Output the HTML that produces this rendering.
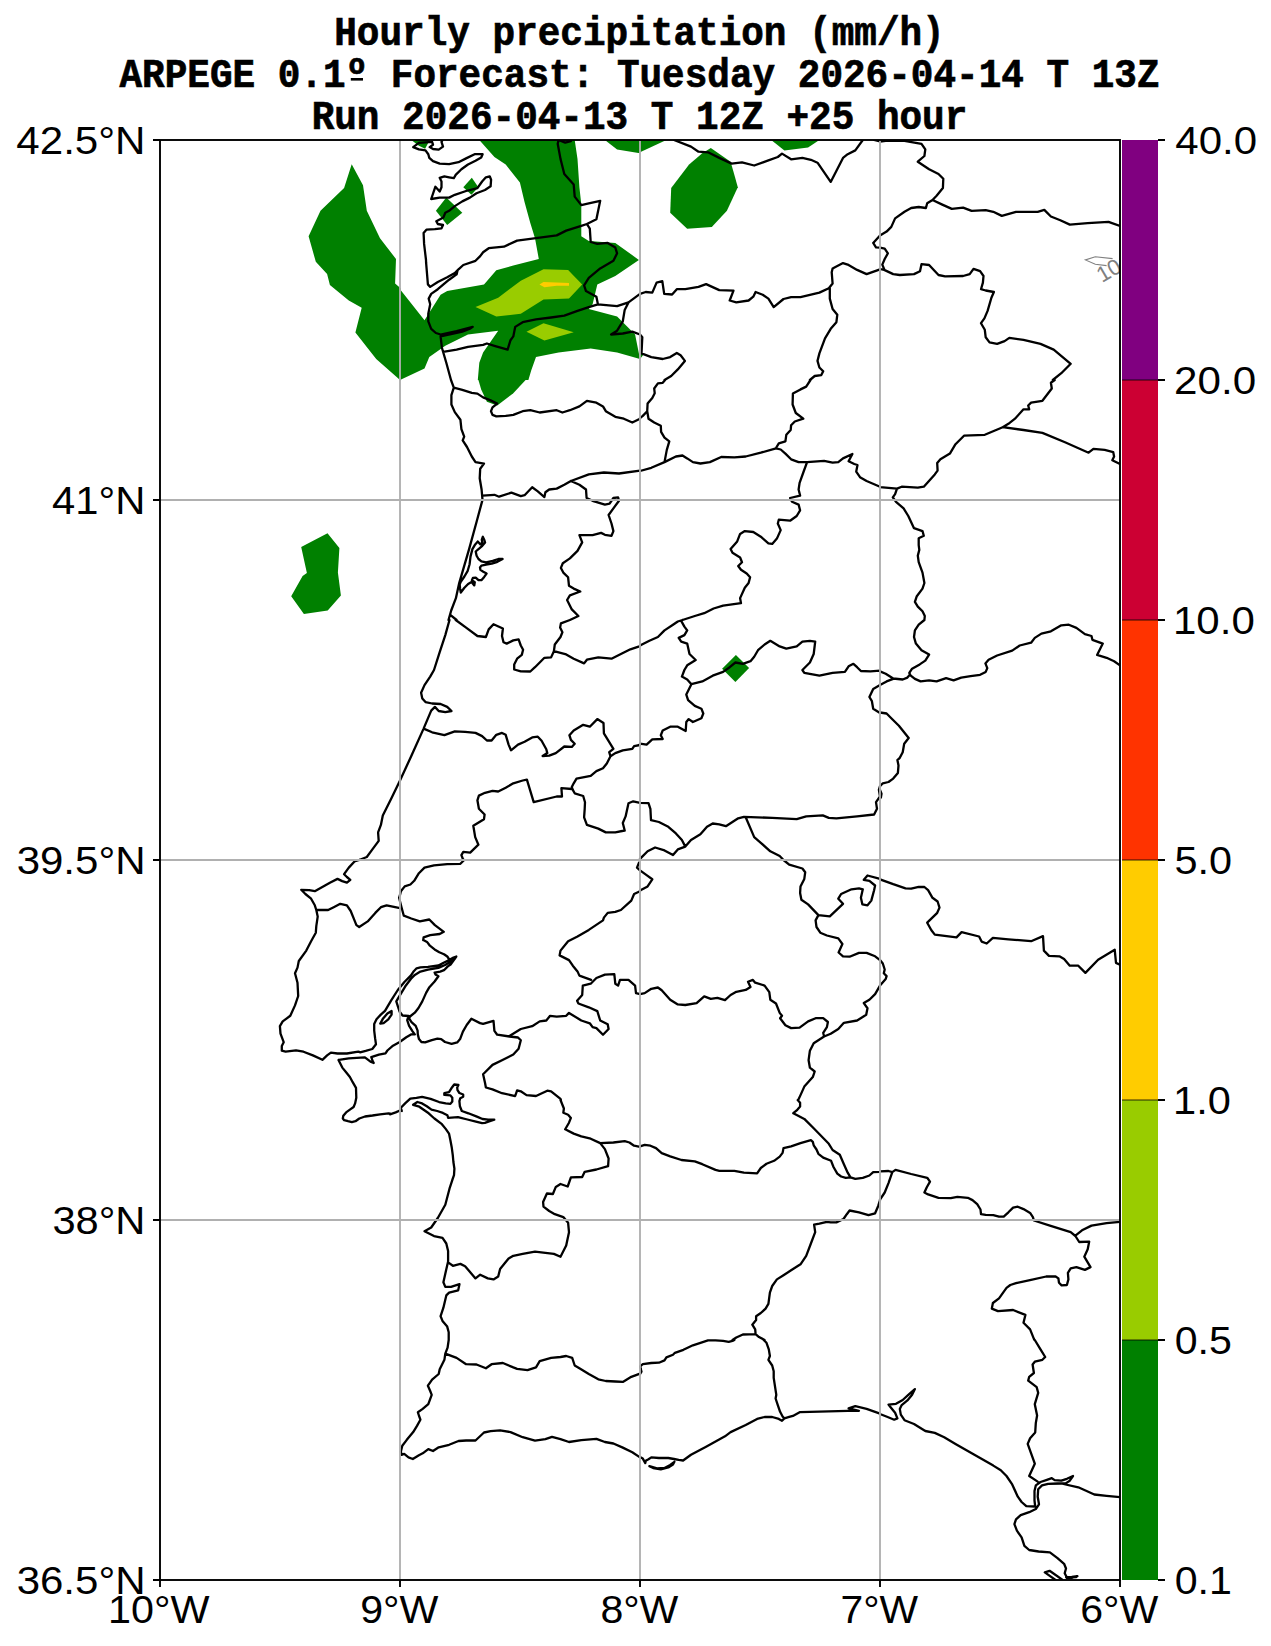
<!DOCTYPE html>
<html><head><meta charset="utf-8"><title>Hourly precipitation</title>
<style>
html,body{margin:0;padding:0;background:#fff;}
body{width:1271px;height:1646px;overflow:hidden;font-family:"Liberation Sans",sans-serif;}
svg{display:block;position:absolute;left:0;top:0;}
.t{font-family:"Liberation Mono",monospace;font-weight:bold;font-size:40.5px;fill:#000;}
.l{font-family:"Liberation Sans",sans-serif;font-size:39.5px;fill:#000;}
</style></head>
<body>
<svg width="1271" height="1646" viewBox="0 0 1271 1646">
<rect width="1271" height="1646" fill="#fff"/>
<defs><clipPath id="ax"><rect x="160" y="140" width="960" height="1440"/></clipPath></defs>
<!-- title -->
<g class="t" text-anchor="middle" stroke="#000" stroke-width="0.7">
<text transform="translate(639.5,45.3) scale(0.9305,1)">Hourly precipitation (mm/h)</text>
<text transform="translate(639.5,87.1) scale(0.9305,1)">ARPEGE 0.1º Forecast: Tuesday 2026-04-14 T 13Z</text>
<text transform="translate(639.5,128.9) scale(0.9305,1)">Run 2026-04-13 T 12Z +25 hour</text>
</g>
<rect x="350.8" y="78" width="12.2" height="2.6" fill="#000"/>
<!-- map -->
<g clip-path="url(#ax)">
<path d="M479.3,140 L574.7,140 L577.5,158.9 L579.4,187.2 L581.3,204.2 L581.3,236.3 L588.8,241 L615.3,242.9 L638.9,259.9 L615.3,276 L597.3,284.4 L592.6,304.3 L588.8,309 L617.1,316.5 L635.1,334.5 L640,359 L617.1,352.4 L590.7,348.6 L558.6,352.4 L536,357.1 L531.2,370.4 L528.4,380 L477.8,380 L479.3,362.8 L483.1,352.4 L498.2,330.7 L468,334.5 L445.3,345.8 L429.3,357.1 L424.5,368.5 L400,380 L400,289.2 L424.5,320.3 L440.6,294.8 L447.2,291.1 L484,284.4 L496.3,270.3 L513.3,265.6 L538.8,259 L535,238.2 L530.3,223.1 L524.6,202.3 L519.9,182.5 L505.7,164.5 L494.4,157Z" fill="#008000"/>
<path d="M604.9,140 L617.1,149.4 L640,153.2 L640,140Z" fill="#008000"/>
<path d="M471.8,177.8 L478.4,187.2 L471.4,194.8 L463.3,187.2Z" fill="#008000"/>
<path d="M446.3,197.6 L462.3,212.7 L447.2,225 L435.9,210.8Z" fill="#008000"/>
<path d="M411.3,140 L428.7,140 L428.3,142.8 L425.1,148.7 L418.9,145.7Z" fill="#008000"/>
<path d="M640,140 L666.4,140 L640,152.3Z" fill="#008000"/>
<path d="M710.8,147.9 L730.6,161.7 L734.4,174.9 L737.8,187.2 L726.9,210.8 L711.8,226.9 L687.2,228.7 L670.2,212.7 L671.2,188.1 L689.1,164.5 L702.3,153.2Z" fill="#008000"/>
<path d="M771.2,140 L784.4,150.4 L808.1,147.6 L819.4,140Z" fill="#008000"/>
<path d="M640,351.5 L643.8,354.3 L640,359Z" fill="#008000"/>
<path d="M351.7,164.2 L363,185.3 L366.8,210.8 L380,238.2 L396,259 L395.1,283.5 L400.9,288.4 L400.9,380.7 L376.2,359 L355.4,332.6 L361.7,307.7 L348.8,300.5 L329.9,285 L327.1,274.1 L315.8,261.8 L308.6,236.3 L320.5,210.8 L344.1,188.1Z" fill="#008000"/>
<path d="M478.4,380 L525.6,380 L513.3,393.2 L497.2,405.5 L486.9,401.7 L481.2,389.4Z" fill="#008000"/>
<path d="M327.5,533.3 L339.4,548.1 L337.9,572.6 L340.9,595.6 L327.7,610.4 L303.9,614.1 L291.2,596.2 L302.6,576 L306.9,573 L301.2,547.1Z" fill="#008000"/>
<path d="M735.9,654.9 L749.1,668.1 L735.4,681.9 L722.1,668.7Z" fill="#008000"/>
<path d="M475.5,307.1 L498.2,297.7 L520.8,280.7 L543.5,269.3 L568.1,269.9 L582.2,284.4 L569,298.6 L543.5,299.6 L520.8,313.7 L496.3,316.5Z" fill="#99cc00"/>
<path d="M526.5,331.7 L543.5,323.2 L573.7,332.2 L544.4,340.5Z" fill="#99cc00"/>
<path d="M539.4,284.4 L543.5,282 L569,283.1 L569,285.8 L556.7,285.8 L544.4,287.3Z" fill="#ffcc00"/>
<path fill="none" stroke="#000" stroke-width="2.3" stroke-linejoin="round" stroke-linecap="round" d="M442.5,140 L441.5,141.9 L443,146.6 L438.7,149.6 L433,149 L429.7,147.1 L433,144.7 L432.1,141.9 L418.9,142.8 L413.2,147.1 L418.9,149.4 L425.5,150.4 L428.3,154.2 L429.3,157.9 L433,161.2 L439.7,163.6 L449.1,164.1 L458.5,162.2 L466.1,158.4 L474.6,154.2 L482.6,154.2 L481.2,157.5 L475.5,160.8 L468,164.5 L461.4,169.3 L455.7,174.9 L453.8,178.2 L449.1,177.3 L444.4,176.3 L439.7,177.8 L441.5,181.5 L441.5,187.2 L439.7,191.5 L435.4,186.7 L431.2,199 L439.7,197.6 L449.1,197.6 L454.8,194.8 L466.1,191 L477.4,188.1 L482.1,181.5 L485.9,177.3 L489.7,176.3 L491.1,179.7 L490.6,186.3 L485,190 L476.5,193.3 L469.9,197.6 L462.3,201.4 L454.8,206.1 L449.1,210.8 L445.3,212.7 L443.4,217.4 L436.3,221.2 L437.8,224 L443,225 L441.5,228.3 L434.9,229.2 L426.4,229.7 L423.6,233 L424.1,243.9 L426,260 M426,260 L426.1,262.7 L427.9,284.4 L430.2,286.9 L437.8,282 L447.2,277.3 L454.8,273.1 L458.5,269.3 L463.3,265 L475.5,260.8 L480.2,256.1 L483.1,252.3 L488.7,248.2 L503.9,246.7 L517.1,240.6 L536,238.2 L556.7,235.4 L566.2,230.6 L581.3,225.9 L586.9,224 M586.9,224 L596.4,219.3 L598.3,209.9 L600.2,200.8 L588.8,203.3 L581.3,205.1 L574.7,196.6 L573.7,184.4 L564.3,174 L560.5,158.9 L557.7,143.8 L558.6,140 L565.2,142.6 L570.9,141.1 M586.9,224 L589.8,228.7 L590.7,242 L597.3,243.9 L607.7,242.9 L615.3,247.6 L617.1,253.3 L613.4,260.8 L600.2,268.4 L588.8,277.8 L584.1,285.4 L586,291.1 L596.4,296.7 L597.9,304.3 M457.6,270.3 L456.6,274.4 L449.1,279.7 L437.8,289.2 L431.2,293.9 L428.7,298.6 L430.2,304.3 L428.3,313.7 L428.3,321.3 L431.2,328.8 L435.9,333 L440.6,334.5 L456.6,331.1 L472.7,326.9 L469.9,328.8 L462.3,331.7 L451,334.1 L440.6,336.4 L441.9,347.7 L446.3,362.8 L451,380 M443.1,351.9 L456.6,349.6 L468,346.8 L483.1,344.9 L486.9,343.5 L494.4,345.8 L507.6,349.6 L510.5,340.2 L513.3,336.4 L515.2,326.9 L522.7,322.2 L536,319.4 L551.1,317.5 L564.3,315.6 L577.5,310.9 L588.8,307.1 L597.9,304.3 M597.9,304.3 L617.1,306.2 L628.5,302.4 L640,293.9 M628.5,302.4 L624.7,309.9 L622.8,321.3 L617.1,330.7 L611.1,334.5 L622.8,333.5 L632.3,331.7 L640,334.5 M674,140 L691,146.6 L698.5,151.7 L708,152.3 L719.3,157.9 L731.6,163.6 L742,162.3 L754.2,165.5 L768.4,160.4 L777.8,157 L782,153.6 L791.1,159.3 L802.4,157.9 L810.9,159.8 L817.5,162.7 L830.7,181.9 L843,157.9 L847.7,154.2 L855.3,150.4 L862.8,140 M874.1,140 L880,141.5 M640,293.9 L645.7,292 L652.3,292.6 L656.6,282.6 L662.3,281.2 L664.2,293.9 L672.1,294.5 L676.8,289.2 L685.3,289.2 L698.5,286.9 L706.1,284.1 L719.3,290.1 L733.5,290.7 L729.7,300.5 L736.3,302.4 L748.6,300.5 L753.3,296.7 L755.6,292 L762.7,294.8 L768.4,298.6 L773.7,307.1 L783.5,299 L791.1,297.1 L800.5,297.1 L819.4,292.6 L828.8,288.2 L832.6,283.5 L831.7,272.2 L832.6,268.4 L843,263.1 L847.7,264.6 L857.1,269.9 L866.6,274.1 L880,269.3 M829.8,288.2 L829.8,298.6 L832.6,309 L837.3,314.7 L836.4,322.2 L830.7,328.8 L825,338.3 L819.4,353.4 L817.5,360.9 L819.4,367.5 L823.2,371.3 L821.3,375.1 L814.7,376 L809.9,380 M880,235.4 L873.2,242.9 L876,247.3 L880,247.6 M640,334.5 L642.3,337.3 L641.5,353.4 L651.3,357.1 L662.7,359 L670.2,357.1 L676.8,353 L680.6,355.3 L684.9,360.9 L677.8,369.4 L671.2,376 L664.5,380 M880,141.5 L885.7,140.9 L904.5,140.9 L921.5,143.8 L925.3,149.4 L924.4,156 L917.8,161.7 L929.1,169.3 L938.5,174 L943.3,178.7 L942.9,188.1 L936.6,195.7 L932.5,200 L927.2,203.3 L925.9,208 L918.7,207 L911.2,208 L904.5,211.8 L895.1,218.4 L891.3,226.9 L886.6,231.6 L880,235.4 M932.5,200 L942.3,204.6 L951.8,208.9 L963.1,207.6 L971.6,210.8 L985.7,210.2 L993.3,211.8 L1001.8,215.9 L1016,211.8 L1037.7,211.8 L1044.3,209.9 L1050.9,216.5 L1060.3,220.2 L1069.8,224.6 L1087.7,223.1 L1108.5,221.8 L1120,225.9 M880,247.6 L884.7,248.6 L887.9,253.3 L884.7,259 L882.3,264.6 L884.2,269.3 M880,269 L884.2,269.9 L893.2,274.1 L899.8,275 L914,274.1 L920,271.2 L921.5,264.2 L929.1,265 L938.5,275 L945.1,276.3 L963.1,276 L969.7,274.1 L973.5,268.8 L980.1,271.2 L983.5,276 L982.9,282.6 L981,289.2 L985.7,290.5 L993.9,292 L991.4,297.7 L987.6,310.9 L984.4,318.4 L981,323.2 L984.8,329.8 L985.7,337.3 L989.5,342.4 L997.1,343.9 L1004.6,341.1 L1009.3,337.9 L1023.5,339.8 L1040.5,343.9 L1053.7,349.6 L1070.7,363.8 L1061.3,373.2 L1052.8,380 M451,380 L453.8,387.6 L451.4,395.1 L451.4,404.5 L454.8,412.1 L460.4,419.7 L461.4,429.1 L464.2,436.6 L462.7,440.4 L467,447 L471.8,456.5 L475.5,462.1 L484,463.6 L480.2,468.7 L479.7,478.2 L481.6,489.5 L482.5,499.9 M482.5,499.9 L476.6,521.7 L469.1,549.1 L459.2,583.1 L455.9,598.2 L451.2,610.5 L448.5,620 M453.8,387.6 L462.3,389.8 L471.8,392.8 L477.4,393.6 L483.1,397.4 L490.6,400.4 L497.2,403.6 L492.5,407.4 L491,411.2 L492.5,414.9 L496.3,416.3 L505.7,415.9 L513.3,414.9 L522.7,411.2 L530.3,410.2 L539.7,412.5 L556.7,410.2 L562.4,412.5 L569.9,410.2 L579.4,406.4 L586.9,400.8 L596.4,402.7 L603,406.4 L605.8,411.2 L615.3,416.8 L623.8,418.7 L632.3,422.5 L640,418.7 M482.5,495.6 L494.4,494.8 L499.1,496.7 L511.4,492.7 L520.8,496.1 L524.6,495.2 L532.2,487.3 L537.8,491.4 L544.4,497.1 L545.4,492.3 L549.2,489.5 L556.7,488.6 L564.3,484.8 L570.9,481 L588.8,474.4 L603.9,472.5 L619,473.5 L640,470.6 M570.9,481 L579.4,484.8 L586,489.5 L586.6,498 L592.6,500.8 L604.9,504.6 L609.6,503.7 L613.4,498 L618.1,497.4 L619,500.8 L613.4,508.4 L608.6,515 L611.5,523.5 L613.4,531.1 L611.5,535.8 L604.9,534.8 L601.1,532.9 L592.6,535.2 L579.4,535.2 L582.2,542.4 L577.5,550.9 L569.9,558.4 L562.8,563.2 L560.9,567.9 L563.3,572.6 L568.1,577.3 L569,585.8 L573.7,588.6 L580.3,591.5 L569.9,595.3 L567.1,600 L571.8,609.4 L578.4,616 L569.9,620 M477.8,541.5 L475.2,544.4 L472.4,549.1 L470.5,556.6 L469.6,564.2 L467.7,570.8 L464.4,576.5 L460.6,582.1 L459.7,584.5 L460.1,588.7 L460.8,592.5 L464.4,587.8 L468.1,584 L471.5,582.1 L474.3,585.4 L474.8,582.1 L471.9,580.2 L472.9,577.9 L475.7,577.6 L478.5,580.2 L481.4,580.2 L484.2,576.9 L486.6,573.6 L483.3,571.8 L480.4,569.9 L480,567.5 L481.4,565.6 L486.1,564.7 L491.8,563.7 L497.4,561.8 L502.6,559 L498.4,559 L492.7,560.9 L486.1,562.3 L481.4,561.4 L478.5,559 L476.6,555.7 L475.7,551.5 L478.5,549.1 L482.3,545.8 L485.1,542.5 L484.2,539.7 L482.8,536.8 L481.8,539.7 L482.3,542.5 L480.4,544.4 L477.8,541.5 M450.6,615.1 L456.6,620 M665.1,380 L662.7,382.8 L657.9,383.4 L654.2,388.5 L654.7,393.2 L652.3,397.9 L647.6,403.6 L647.2,411.2 L642.8,415.9 L640,418.1 M647.2,411.2 L648.5,418.7 L654.2,422.5 L660.8,425.7 L661.1,431.9 L664.5,437.6 L669.3,441.4 L666.8,449.9 L664.5,462.1 M640,471 L651.3,467.8 L664.5,462.1 L675.9,456.5 L682.5,455.5 L687.2,458.4 L692.9,462.1 L700.4,463.5 L709.9,462.1 L721.2,457 L734.4,457.4 L745.7,456.5 L760.8,452.7 L776,448.4 L780.7,449.5 L785.4,453.6 L791.1,459.3 L798.6,462.1 L807.1,462.1 L824.1,460.8 L832.6,462.7 L838.3,462.1 L843,458.4 L852.4,454 L848.6,461.2 L854.3,464 L857.5,465 L856.2,471.6 L860,477.2 L866.6,481 L880,486.7 M810.5,380 L806.2,386.6 L800.5,389.4 L792.9,393.6 L792.6,404.5 L795.8,413 L803.3,418.7 L794.8,421.5 L791.1,425.3 L790.7,430 L786.3,434.8 L785.4,441.4 L778.8,443.3 L776,448 M807.1,462.1 L803.3,472.5 L799.6,482.9 L798.6,489.5 L800.1,495.6 L790.1,498 L792,501.8 L798.6,504.6 L800.1,510.3 L796.7,516 L790.1,520.7 L778.8,519.7 L777.8,523.5 L780.7,530.1 L776.9,538.6 L772.2,543.9 L768.4,543.3 L760.8,536.7 L753.3,532 L744.8,531.1 L740.1,533.9 L737.2,541.4 L730.6,549 L732.5,552.8 L740.1,557.5 L742,562.2 L738.2,566 L741,569.8 L746.7,573.5 L750.1,577.3 L748.6,583 L744.8,587.7 L740.1,598.1 L741,603.2 L723.1,605.6 L713.6,608.5 L704.2,613.2 L694.8,616 L682.5,620 M1054.7,380 L1050.9,382.8 L1051.8,388.5 L1042.4,400.8 L1031.1,402.7 L1028.2,405.5 L1029.2,409.3 L1023.5,409.3 L1015,418.7 L1008.4,423.8 L1002.7,427.2 L984.8,434.8 L964,435.7 L955.5,444.2 L949.9,453.6 L940.4,459.3 L937.2,463.1 L937.6,470.6 L934.8,474.4 L923.8,486.7 L917.8,487.6 L901.7,486.7 L897,488.6 L895.1,494.2 L892.8,497.4 L896,501.8 L903.6,508.4 L908.3,516 L914,528.2 L922.5,531.1 L923.8,535.8 L918.7,538.2 L918.7,545.2 L919.3,549.9 L917.8,555.6 L918.7,562.2 L922.5,572.6 L924.4,583 L922.5,588.6 L916.8,596.2 L914.9,601.9 L917.8,606.6 L922.5,611.3 L924.8,616 L924.4,620 M880,487.1 L897,488.6 M1002.7,427.2 L1023.5,430 L1042.4,432.9 L1065,442.3 L1088.6,452.7 L1093.4,448.9 L1104.7,449.9 L1113.2,452.1 L1114.1,456.5 L1112.3,460.2 L1120,464 M449.5,620 L445.3,635.1 L439.7,652.1 L434,670 L430.2,676.6 L424.5,685.1 L421.1,692.7 L422.3,698.4 L425.5,702.1 L432.1,703.5 L440.6,704 L447.2,706.9 L451.5,711 L445.3,712.1 L438.7,711 L434.9,706.9 L431.2,710.6 L423.6,728.6 L411.3,756 L400,780.5 M455.7,620 L466.1,627.6 L477.4,636 L485.9,637 L488.7,629.4 L493.5,624.2 L502.9,628.5 L502,636 L503.5,642.3 L506.7,643.6 L513.3,640.4 L518.6,639.3 L520.8,645.5 L523.1,649.8 L521.8,654.9 L517.1,658.7 L514.2,664.4 L514.2,669.5 L520.8,671.4 L530.3,671.5 L535,667.2 L544.4,657.8 L551.1,657.4 L553.9,651.2 L554.8,644.5 L560.5,637 L562.4,632.3 L560.1,627.6 L560.9,623.4 L569.9,620 M553.9,651.2 L566.2,654.4 L573.7,658.7 L584.1,663.4 L586.9,659.7 L598.3,657.4 L611.5,658.7 L620.9,654 L630.4,649.3 L640,646.1 M423.6,728.6 L432.1,732.3 L444.4,735.2 L454.8,731.4 L465.1,731.8 L475.5,732.9 L482.1,736.1 L486.9,740.5 L491.6,740.5 L496.3,734.8 L502,732.9 L505.7,734.8 L508.6,744.6 L511,750.3 L518,744.6 L524.6,741.8 L532.2,737.4 L537.8,736.7 L541.6,740.8 L546.3,749.3 L547.3,753.1 L542.6,756 L549.2,755.6 L555.8,753.1 L564.3,746.5 L571.8,746.9 L574.7,743.7 L570.9,739.9 L569.4,735.2 L573.7,730.5 L583.2,724.8 L589.8,726.7 L597.3,719.1 L603.5,722.9 L603.9,733.3 L613.4,748.8 L609.2,752.2 L610.5,756.3 M640,745 L634.1,746.1 L632.3,748.8 L622.8,750.3 L615.3,753.1 L610.5,756.3 L606.8,763.5 L603,768.2 L596.4,771.1 L590.7,775.8 L576.5,778.6 L573.7,783.3 L571.8,787.1 L572.8,789.9 L574.7,793.3 L583.2,796 L585,802.2 L584.7,808.8 L584.1,817.3 L586.9,824.9 L598.3,828.6 L605.8,832.4 L615.3,832.4 L624.7,830.5 L622.8,823 L625.6,816.4 L628.5,803.2 L633.2,801.3 L640,802.8 M571.8,789 L561.4,788.1 L562,796.5 L556.7,796.5 L533.7,802.2 L526.9,779.6 L522.7,780.5 L513.3,783.3 L505.7,787.7 L498.2,791.5 L492.5,790.9 L485,792.8 L478.9,795.6 L477.4,800.3 L478.9,808.8 L484.6,814.5 L484,819.2 L473.3,825.8 L475.2,837.1 L478.4,844.7 L470.2,852.6 L463.3,851.9 L461.4,855.1 L463.3,860 M640,645.5 L649.4,640.8 L657.9,637 L664.5,630.4 L673,624.7 L677.8,621.5 L682.5,620 M681.2,620.9 L684.4,626.6 L687.2,630.4 L684.4,635.1 L678.7,637.9 L681.2,641.7 L687.2,643.6 L689.5,654 L695.7,660 L687.2,665.3 L684.4,670 L681.9,676.6 L687.2,679.5 L691.4,684.2 M691.4,684.2 L702.3,681.4 L712.7,675.7 L723.1,671.9 L729.7,667.2 L735.4,662.5 L742.9,663.8 L750.5,661.2 L754.2,656.8 L758,650.2 L764.6,644.5 L770.3,640.8 L779.7,646.4 L786.3,648.7 L796.7,646.4 L802.4,641.7 L809.9,640.8 L815.2,641.7 L813.7,654 L809.9,662.5 L802.4,670 L804.3,672.9 L819.4,675.7 L832.6,672.9 L844.9,671.9 L848.6,666.3 L853.4,663.8 L857.1,667.2 L860.9,671 L870.4,671.4 L880,670.6 M691.4,684.2 L686.3,694.6 L688.1,700.2 L694.8,705.9 L701.4,708.7 L703.3,713.5 L701.4,718.2 L692.9,722 L688.7,719.1 L686.3,722 L685.7,731 L677.8,726.7 L670.2,726.7 L662.7,730.5 L660.8,735.2 L662.7,739 L652.3,739.3 L646.6,744.6 L640,743.7 M880,685.1 L873.2,688.9 L869.4,697 L871.9,701.2 L873.2,708.7 L880,712.9 M880,786.2 L878.9,789.9 L880,796.5 L876,802.2 L877,808.8 L874.1,814.5 L857.1,816.4 L836.4,818.3 L828.8,817.9 L822.8,815.4 L806.2,816.4 L796.7,819.2 L772.2,817.9 L743.9,816.8 L738.2,818.3 L725.9,826.2 L719.3,824.3 L712.7,823.5 L707,826.8 L700.4,834.3 L691,840 L685.3,846.6 L677.8,849.4 L673,855.1 L664.5,850.4 L655.1,847.5 L647.6,851.3 L640,858.9 M640,802.8 L648.5,803.2 L650.4,808.8 L651,820.2 L658.9,822 L668.3,826.8 L675.9,833.4 L681.9,840 L685.3,846.6 M745.7,817.3 L754.2,837.1 L760.8,842.8 L770.3,851.3 L779.7,856 L783.5,860 M924.4,620 L918.7,624.7 L914.9,630.4 L914,637 L915.9,643.6 L921.5,650.2 L929.1,654.6 L925.3,660.6 L919.7,664.4 L912.1,668.7 L909.3,672.9 L910.2,674.8 M880,671.4 L885.7,673.8 L893.2,678.5 L902.7,679.5 L907.4,677.6 L909.8,674.8 L914.9,678.9 L920.6,681.4 L929.1,680.4 L936.6,681.4 L946.1,678.2 L953.6,680.4 L961.2,677.6 L970.6,676.1 L980.1,674.8 L985.7,671.9 L987.3,668.1 L985.4,663.4 L988.6,659.7 L997.1,655.5 L1012.2,650.6 L1019.7,645.5 L1031.1,642.7 L1034.8,637.9 L1041.4,633.6 L1050.9,631.3 L1061.3,625.3 L1068.8,624.7 L1076.4,627.9 L1084.9,634.2 L1091.5,636 L1092.4,639.8 L1102.8,643.6 L1097.1,654.9 L1106.6,657.8 L1114.1,661.2 L1120,665.3 M880,685.1 L886.6,681.4 L893.2,678.9 M880,712.5 L886.6,713.5 L891.3,718.2 L898.9,725.7 L908.7,738 L904.2,743.7 L902.7,752.2 L899.8,757.8 L897.4,760.1 L898.5,765.4 L897.9,772.9 L893.2,778.6 L888.5,782 L882.8,783.3 L880,786.2 M880,789.9 L881.5,793.7 L880.9,797.5 M359.2,860 L354.5,861.5 L348.8,867.6 L344.1,874.2 L346.9,877 L350.3,879.8 L346.9,882.7 L342.2,881.1 L337.5,878.9 L329.9,882.7 L314.8,891.2 L309.2,890.2 L301.2,889.8 L305.4,894 L311.1,898.7 L314.8,905.3 L316.3,910 L317.7,916.6 L316.3,926.1 L315.8,932.7 L311.1,941.2 L306.3,950.6 L298.8,961 L297.5,967.6 L295,973.3 L297.5,982.7 L298.2,996 L295,1005.4 L290.3,1015.8 L282.7,1021.4 L279.9,1026.2 L280.5,1033.7 L283.7,1042.2 L281.8,1046 L281.8,1050.7 L285.6,1051.7 L296,1050.3 L303.5,1051.7 L312.9,1055.4 L322.4,1059.8 L327.1,1055.4 L330.9,1052.6 L337.5,1053.5 L346.9,1053.5 L358.3,1051.7 L360,1052.2 M316.3,910 L328.1,910 L333.7,907.2 L340.3,903.8 L346.9,905.3 L350.7,911 L354.5,920.4 L356.4,925.1 L359.2,927 L367.7,921.4 L375.3,912.9 L380.9,907.2 L386.6,905.3 L400,908.1 M372.2,1060 L373.7,1063 L370.5,1061.7 L364.9,1057.3 L348.8,1058.3 L339,1059.8 L339.4,1060.5 M400,780.5 L391.3,798.4 L382.8,815.4 L380.9,824.9 L378.1,832.4 L378.7,840.9 L372.4,849.4 L366.8,857 L359.2,860 M464.2,860 L460.4,863.8 L447.2,864.2 L434,865.3 L424.5,867.6 L418.9,873.2 L414.2,880.8 L410.4,884.5 L404.7,886.4 L400.9,891.2 L400,894.9 L399.1,897.8 L401.5,907.2 L403.8,915.7 L411.3,918.5 L419.8,921.4 L429.3,919.5 L434.9,925.1 L443.8,931.8 L439.7,934 L430.2,935.2 L423.6,937.4 L423.2,940.1 M480.1,1023.1 L483.1,1023.9 L493.5,1020.9 L494.4,1030.9 L497.2,1034.7 L509.5,1036.5 L518,1037.5 L520.8,1040.3 L518.6,1048.8 L513.3,1054.5 L502,1060.2 L492.5,1064.9 L483.1,1074.3 L485,1082.8 L485.9,1087.5 L492.5,1089.4 L502,1093.2 L515.2,1096 L517.1,1090.4 L520.8,1091.3 L526.5,1095.1 L536,1096 L547.3,1090.7 L551.1,1091.3 L560.5,1098.9 L560.9,1100 M509.5,1036 L520.8,1029 L532.2,1026.2 L539.7,1021.4 L546.3,1020.5 L550.1,1015.8 L556.7,1016.7 L566.2,1015.8 L569,1012.9 L581.3,1020.5 L589.8,1023.3 L592.6,1027.1 L596.4,1028.1 L603,1034.7 L608.6,1029 L607.7,1024.3 L600.2,1020.5 L597.3,1011.1 L588.8,1007.3 L578.4,1003.5 L577.1,1000.7 L582.2,995 L582.8,985.6 L590.7,983.7 L596.4,978 L604.9,974.6 L614.3,974.2 L615.3,983.7 L618.1,985.6 L620,979.9 L628.5,979.9 L635.1,985.6 L636,993.1 L640,994.1 M640,891.2 L634.1,894 L631.3,900.6 L620.9,910 L615.3,911.9 L607.7,912.9 L603.9,917.6 L603,920.4 L588.8,929.9 L577.5,936.5 L568.1,941.2 L560.5,950.6 L559.6,955.4 L569,960.1 L572.8,965.7 L577.5,971.4 L579.4,975.6 L591.1,979.9 M638.9,862.8 L637,867.6 L640,870.4 M360,1052.3 L365.7,1050.9 L372.3,1049 L376,1044.3 L375.1,1038.2 L374.2,1030.6 L374.2,1024 L376.5,1019.3 L380.8,1014.6 L385,1010.8 L391.2,1000.4 L397.8,990 L404.4,982 L411,975.4 L413.8,971.2 L416.6,968.3 L420.4,967.4 L428,966.9 L438.4,965.5 L443.1,963.1 L448.7,960.3 L453.5,957.5 L456.3,956.5 L454.4,959.4 L450.6,964.5 L447.8,966.4 L444,970.2 L440.2,971.6 L434.6,972.6 L435.5,974.5 L438.4,976.3 L434.6,981.5 L429.4,987.2 L426.1,992.9 L422.3,1001.4 L418.5,1008 L414.8,1012.7 L410,1016.5 L409.1,1018.4 L411.5,1022.1 L415.7,1025.9 L417.6,1030.6 L417.8,1034.4 L419,1039.1 L421.4,1042 L425.1,1042.4 L431.8,1040.1 L437.4,1038.7 L441.2,1039.1 L445,1042 L451.6,1043.9 L457.2,1042.4 L460.1,1039.1 L462.9,1031.6 L466.7,1025 L471.4,1018.8 L480,1023.1 M455.4,957.5 L450.6,961.7 L445,965 L438.4,967.9 L428,969.7 L420.4,971.6 L414.8,974.9 L411,978.7 L405.3,986.3 L399.7,995.7 L396.3,1001.4 L397.8,1006.1 L399.7,1011.8 L402.5,1015.5 L408.6,1016 L407.2,1020.2 L409.1,1025.9 L412.4,1031.1 L414.8,1034.4 L411,1034.4 L406.3,1037.2 L399.7,1042 L393,1045.7 L387.4,1050.5 L385.5,1053.3 L378.9,1054.7 L371.3,1057.1 L372.3,1060 M380.3,1023.6 L383.1,1018.4 L387.4,1013.6 L391.6,1011 L391.6,1014.6 L388.3,1019.3 L383.6,1023.1 L380.3,1023.6 M423.3,940 L427,941.9 L429.9,945.7 L434.6,949.4 L439.3,952.3 L444,954.2 L447.3,956.5 L449.2,959.4 M640,870.4 L646.6,875.1 L652.3,879.3 L647.6,886.4 L640,890.6 M640,994.1 L644.7,993.1 L651.3,988.8 L657.9,987.5 L661.7,990.3 L670.2,999.7 L677.8,1004.4 L685.3,1005 L696.6,1003.1 L704.2,996.3 L710.8,998.8 L717.4,997.8 L725,1000.1 L730.6,995 L736.3,991.8 L745.7,989.9 L750.5,986.9 L748,981.8 L752.9,979.9 L755.2,982.7 L764.6,985.6 L769.3,992.2 L770.3,999.7 L776,1003.5 L779.7,1012.9 L782,1015.8 L780.1,1018.2 L785.4,1025.2 L791.1,1028.1 L799.6,1027.7 L808.1,1021.4 L815.6,1018.2 L823.2,1018.2 L827.9,1022 L826.9,1027.1 L823.2,1032.8 L824.1,1036.5 M783.5,860 L789.2,864.7 L802.4,868.5 L805.2,872.3 L804.3,878.9 L800.5,886.4 L800.1,893 L801.4,899.7 L808.1,904.4 L818.4,915.1 L829.8,916.3 L843,903.8 L838.3,898.7 L841.1,894 L851.5,889.3 L859,888.3 L862.8,889.3 L860.9,897.8 L862.4,904.4 L867.5,905.3 L871.3,900.6 L874.1,890.2 L875.1,885.5 L869.4,880.8 L863.8,879.8 L867.5,875.5 L880,878.9 M818.4,915.1 L815.6,920.4 L816.5,927 L820.3,932.7 L826.9,935.5 L838.3,938.4 L842.4,944 L838.6,952.5 L843,956.3 L849.6,956.7 L859,952.9 L866.6,952.9 L875.1,956.3 L880,960.1 M880,985.6 L875.1,994.1 L869.4,999.7 L863.8,1003.1 L867.5,1008.2 L866.2,1014.8 L857.1,1020.5 L843.9,1022.8 L838.3,1029 L830.7,1033.7 L824.1,1036.5 L813.7,1043.2 L809.9,1050.7 L808.6,1060.2 L809.9,1067.7 L814.7,1071.5 L812.8,1077.1 L804.3,1086.6 L800.5,1095.1 L798.2,1100 M880,879.3 L893.2,884.2 L905.5,888.3 L911.2,888.7 L918.7,886.8 L924.4,887 L928.1,890.2 L932.5,897.8 L937.6,901.5 L939.5,907.6 L937,913.2 L927.2,922.7 L931.4,930.2 L934.8,934.6 L956.5,937.4 L961.6,932.1 L979.1,936.5 L981.6,941.6 L986.7,943.5 L992.9,937.8 L1008.4,939.3 L1031.1,941.2 L1043,936.1 L1043.9,950.6 L1049,955.9 L1059.4,956.3 L1064.1,959.1 L1069.8,965.7 L1078.3,965.7 L1085.4,972.9 L1098.1,959.7 L1114.7,949.7 L1116,962.9 L1120,964.8 M880,960.1 L882.8,963.5 L884.7,969.5 L883.8,973.3 L886.6,976.1 L885.7,979 L880,985.4 M452.3,1180.1 L449.5,1188.7 L445.3,1204.8 L437.8,1218 L431.2,1227.5 L424.5,1231.2 L434,1236 L442.5,1237.8 L446.3,1243.5 L448.1,1251.1 L448.1,1261.4 L445.3,1273.7 L443.4,1282.2 L445.3,1286.9 L451,1286.9 L459.5,1284.1 L458.2,1290.3 L449.1,1292.6 L446.3,1295.4 L443.4,1307.7 L440.6,1316.2 L442.5,1320.9 L447.2,1326.6 L448.7,1332.3 L448.7,1340 M448.1,1262.4 L452.9,1265.8 L460.4,1263.9 L465.1,1266.2 L475.5,1278.4 L480.2,1274.7 L487.8,1278.4 L493.5,1279.4 L498.2,1276.5 L500.1,1269 L503.9,1264.3 L508.6,1258.6 L513.3,1255.8 L522.7,1253.9 L535,1251.6 L545.4,1252.9 L553.9,1253.9 L560.5,1256.7 L566.2,1245.4 L569,1232.2 L568.1,1222.7 L563.3,1217.1 L554.8,1214.2 L549.2,1211 L543.5,1206.7 L543.1,1202 L546.9,1193.5 L552.9,1194 L555.8,1186.9 L560.5,1184 L567.7,1186.5 L570.9,1177.4 L582.2,1177 L584.7,1171.8 L596.4,1169.5 L608.1,1166.1 L608.6,1158.5 L604.9,1149.1 L600.2,1143.1 L590.7,1138.7 L581.3,1136.3 L573.7,1133.6 L565.2,1129.3 L569,1122.7 L570.9,1117.9 L568.1,1114.7 L563.3,1112.8 L563.9,1108.5 L560.5,1100 M600.2,1143.1 L613.4,1142.5 L624.7,1141.2 L629.4,1142.5 L634.1,1145.7 L640,1146.8 M390,1114.3 L395.7,1112.4 L399.9,1110.5 L401.8,1111 L400.9,1107.7 L405.1,1103.4 L410.3,1098.7 L416.4,1097.8 L422.1,1096.8 L430.6,1098.9 L439.1,1102 L445.7,1103.4 L450.4,1103.9 L452.3,1101.5 L452.3,1097.8 L450.4,1095.4 L444.3,1094.9 L444.3,1093.2 L449,1092.1 L451.4,1088.3 L454.2,1084.5 L458.4,1085 L457.2,1087.4 L457.5,1090.2 L459.4,1093 L463.2,1094.5 L463.2,1096.8 L460.3,1098.2 L459.4,1101.1 L459.9,1106.3 L461.8,1111 L468.4,1113.3 L476.9,1116.6 L482.5,1119 L488.2,1119.7 L494.3,1119.7 L489.1,1121.4 L484.9,1122.8 L482.1,1123.1 L476.9,1121.8 L467.4,1119.5 L458,1117.1 L448.1,1117.8 L447.4,1115.2 L442.9,1112.9 L437.2,1111 L431.5,1109.6 L426.8,1106.3 L422.1,1103.4 L417.4,1102 L413.1,1104.8 L419.3,1106.7 L424,1110 L428.7,1113.3 L434.4,1118.5 L441.9,1124.2 L445.7,1128.9 L449,1133.6 L450.4,1140.2 L451.8,1147.8 L452.8,1155.4 L453.4,1162 L454.4,1168.6 L454,1175.2 L452.3,1180 M338.5,1060 L340.4,1063.8 L342.3,1067.6 L346.1,1072.3 L349.9,1077 L352.7,1082.2 L356,1087.9 L356.3,1097.8 L355.1,1103.4 L353.6,1107 L349.9,1109.6 L346.1,1112.4 L343.3,1115.7 L342.8,1118.5 L344.2,1120.2 L348,1121.2 L351.8,1122.1 L355.5,1121.2 L359.3,1118.5 L365,1116.5 L372.5,1115.5 L380.1,1114.3 L388.6,1113.3 L390,1113.6 M640,1146.3 L644.7,1144.9 L650.4,1145.7 L656,1148.1 L661.7,1153.2 L670.2,1156.3 L681.5,1160 L694.8,1161.4 L702.3,1164.2 L715.5,1169.9 L719.3,1170.8 L734.4,1170.8 L743.9,1172.7 L757.1,1173.3 L760.8,1168 L766.5,1163.8 L774.1,1160.8 L779.7,1156.6 L782.6,1152.9 L783.5,1148.1 L791.1,1146.3 L800.5,1143.1 L810.9,1140.2 L812.8,1141.9 L813.7,1145.3 L816.5,1149.5 L818.4,1153.8 L823.2,1157.6 L831.1,1160.8 L833.5,1167 L837.3,1173.6 L841.1,1176.5 L845.8,1177.8 L850.5,1177.4 M797.7,1100 L800.1,1102.8 L800.1,1106.6 L796.7,1110.4 L793.3,1113.2 L798.6,1116 L804.3,1118.9 L813.7,1128.3 L828.8,1143.8 L832.6,1150 L839.8,1154.8 L843.9,1164.2 L847.7,1172.7 L850.5,1177.4 L855.3,1178.9 L862.8,1177.8 L869.4,1175.5 L873.2,1172.1 L880,1171.8 M880,1200.1 L878.3,1205.7 L875.1,1213.3 L868.5,1215.2 L859,1212.3 L849.6,1210.5 L846.8,1214.2 L843.5,1219 L836.4,1222.4 L830.7,1222.4 L826.9,1221.8 L819.4,1223.7 L814.1,1224.6 L815.2,1232.2 L810.9,1243.5 L806.2,1255.8 L800.5,1264.3 L791.1,1270.3 L783.5,1275.2 L776.9,1279.4 L772.2,1286 L769.9,1292.6 L768.4,1303.9 L765.6,1308.6 L760.8,1313 L756.1,1316.2 L756.1,1320 L752.3,1324.7 L755.2,1329.4 L755.6,1334.1 L759,1337 L764.6,1340 M755.6,1334.1 L742.9,1334.5 L736.3,1337.5 L732.5,1340 M880,1171.4 L888.5,1171 L892.3,1172.1 L895.5,1169.9 L911.2,1174 L927.2,1177.8 L930,1181.6 L926.8,1187.2 L924.4,1192.5 L928.1,1194.4 L938.5,1197.8 L950.8,1198.2 L957.4,1196.9 L967.8,1197.8 L972.5,1200.1 L977.2,1204.2 L980.5,1209.5 L981,1214.2 L985.7,1214.8 L993.3,1215.2 L999,1216.7 L1003.7,1216.7 L1008.4,1212.3 L1013.1,1207.6 L1017.8,1206.7 L1023.5,1209.1 L1030.1,1212.9 L1032.9,1217.1 L1033.9,1220.5 L1049.9,1225.6 L1070.7,1232.2 L1075.4,1236 L1079.2,1242 L1089.2,1241.6 L1087.7,1249.2 L1084.3,1256.7 L1087.7,1262.4 L1090.5,1267.1 L1084.9,1269.9 L1076.4,1267.1 L1070.7,1268.4 L1067.9,1272.8 L1068.4,1279.4 L1066.9,1285 L1061.6,1285.4 L1059,1282.8 L1058.4,1278.4 L1055.6,1276.5 L1046.2,1276.5 L1031.1,1279.8 L1016,1283.2 L1010.3,1285 L1006.5,1287.9 L999,1298.3 L992.9,1303 L991.8,1308.6 L998,1311.1 L1013.1,1310 L1025.4,1314.9 L1023.5,1322.8 L1030.1,1329.4 L1033.9,1338.9 L1034.5,1340 M892.3,1172.1 L888.5,1183.1 L884.7,1192.5 L880,1199.7 M1075.4,1235.6 L1082,1230.3 L1091.5,1225.6 L1106.6,1223.1 L1120,1221.8 M448.7,1340 L447.6,1347.6 L445.3,1353.6 L444.4,1359.8 L439.7,1369.3 L438.7,1374 L432.1,1379.7 L427.9,1385.7 L430.2,1391 L431.7,1394.8 L428.3,1404.2 L422.7,1408.9 L417.9,1412.3 L418.9,1415.5 L420.4,1419.7 L417,1425.9 L413.2,1432.1 L406.6,1440.1 L402.3,1445.7 L400.9,1451.4 L401.5,1454.8 L404.2,1453.9 L408.5,1457.4 L412.8,1459 L418.9,1455.2 L422.7,1453.3 L428.3,1449.1 L433,1451 L438.7,1447.3 L449.1,1444.8 L458.5,1441 L466.1,1440.5 L475.5,1440.5 L484,1432.5 L490.6,1431.2 L500.1,1430.3 L510.5,1432.1 L522.7,1437.2 L535,1440.6 L545.4,1439.1 L552,1436.9 L560.5,1439.1 L569,1442 L581.3,1440.1 L596.4,1438.8 L604.9,1442 L613.4,1443.5 L622.8,1447.6 L632.3,1452.3 L640,1457.4 M445.3,1353.6 L456.6,1357.9 L466.1,1364.2 L476.5,1364.5 L485.9,1368.3 L491.6,1364.2 L502.9,1363 L513.3,1367.4 L517.1,1368.9 L527.5,1370.2 L536,1367.4 L539.7,1361.1 L551.1,1357.9 L560.5,1357 L566.2,1356 L572.2,1357.9 L574.7,1365.5 L579.4,1368.3 L588.8,1374 L598.3,1379.3 L605.8,1381 L615.3,1381.5 L622.8,1381.9 L631.3,1376.8 L640,1373.6 M640,1374 L641.5,1371.7 L640.6,1368.3 L640.4,1366.1 L642.8,1364.2 L651.3,1363 L658.9,1362.7 L664.5,1360.4 L666.4,1357.4 L673,1354.7 L674.9,1352.8 L683.4,1349.8 L692.9,1345.3 L708,1340.4 L715.5,1340.4 L723.1,1340.9 L728.7,1341.9 L732.5,1340.9 L734.4,1340 M763.7,1340 L766.5,1342.8 L768.8,1349.4 L769.9,1356 L768.4,1359.8 L772.2,1365.5 L773.7,1371.2 L773.7,1377.8 L775,1386.3 L776.3,1394.8 L775.6,1398.5 L777.8,1405.1 L780.1,1411.8 L782.6,1416.5 L784.4,1418.4 M640,1457.1 L642.8,1458.6 L645.3,1463.1 L645.7,1460.8 L648.5,1459.3 L651.3,1457.4 L658.9,1458 L668.3,1458 L674,1459 L678.7,1459.9 L683.1,1460.5 L691,1454.8 L706.1,1446.7 L725,1436.3 L730.6,1432.1 L745.7,1425 L757.1,1418.9 L764.6,1417 L772.2,1417 L778.8,1418.9 L782,1420.8 L784.4,1418.4 L789.2,1416.9 L792.9,1415.9 L800.1,1412.1 L809.9,1411.8 L828.8,1411.4 L847.7,1410.8 L859,1410.8 L848.6,1408.4 L855.3,1406.1 L866.6,1408.9 L880,1413.6 M649.4,1466.1 L657,1468.4 L664.5,1468 L670.2,1465 L674.4,1461.8 L673,1464.6 L668.3,1467.5 L660.8,1469.3 L653.2,1468 L649.4,1466.1 M880,1414 L887.6,1417 L894.2,1419.7 L897.4,1418.4 L895.1,1412.7 L890.4,1407 L888.5,1404.6 L896,1403.8 L902.7,1400 L908.3,1394.8 L914.9,1389.1 L912.1,1394.8 L907.4,1400.4 L901.7,1405.1 L899.8,1408.9 L900.8,1414.6 L904.5,1420.2 L914,1424 L925.3,1431 L934.8,1432.9 L944.2,1437.2 L955.5,1443.9 L974.4,1454.8 L993.3,1465.6 L1000.8,1470.3 L1006.5,1476 L1012.2,1484.4 L1017.8,1496.7 L1021.6,1502 L1026.3,1506.2 L1035.2,1506.5 L1034.5,1500.5 L1034.5,1491.1 L1035.8,1485.4 L1040.5,1482 L1046.2,1480.1 L1051.8,1478.2 L1054.7,1480.1 L1061.3,1480.7 L1066.9,1478.8 L1073,1476 L1069.8,1480.7 L1066,1483.1 L1057.5,1483.5 L1048.1,1483.9 L1042,1485.4 L1038.2,1489.2 L1037.7,1496.7 L1039,1504.3 L1035.8,1509 L1029.2,1512.2 L1020.7,1515.2 L1016,1519.4 L1014.4,1524.1 L1016.9,1530.7 L1021.6,1537.3 L1024.4,1545.8 L1029.2,1550 L1038.6,1551.5 L1049.9,1552.4 L1057.5,1558.1 L1064.1,1563.8 L1066,1568.5 L1064.7,1573.2 L1066.9,1577.5 L1076.4,1577 M1034.8,1340 L1040.5,1349.4 L1045.2,1357 L1042.4,1359.8 L1034.8,1361.7 L1032.6,1364.5 L1033.9,1373 L1029.2,1376.8 L1028.2,1380.6 L1036.7,1387.2 L1038.2,1392.9 L1034.8,1404.2 L1037.1,1415.5 L1035.8,1423.1 L1035.2,1432.5 L1030.1,1438.2 L1027.7,1443.9 L1031.1,1453.3 L1034.8,1463.7 L1029.2,1476 L1037.7,1481.6 M1048.1,1483.9 L1061.3,1483.5 L1078.3,1487.3 L1094.3,1494.5 L1106.6,1495.8 L1120,1497.1 M1056.6,1580.7 L1044.8,1572.4 L1049.6,1570.8 L1062.3,1579.7 M1066.1,1577.1 L1071.8,1576.9 L1077.4,1576.1 L1071.8,1578 L1066.6,1578"/>
<g stroke="#b0b0b0" stroke-width="1.85" fill="none">
<path d="M400,140V1580M640,140V1580M880,140V1580M160,500H1120M160,860H1120M160,1220H1120"/>
</g>
<path d="M1112.6,258.6L1095.3,256.7L1085.4,259.9L1095.3,264.2L1106.6,265.6" fill="none" stroke="#808080" stroke-width="1.1"/>
<text transform="translate(1102,283) rotate(-30)" style="font-family:'Liberation Sans',sans-serif;font-size:22px;fill:#808080">10</text>
</g>
<!-- axes frame -->
<rect x="160" y="140" width="960" height="1440" fill="none" stroke="#000" stroke-width="1.9"/>
<!-- ticks -->
<path d="M153,140H160M153,500H160M153,860H160M153,1220H160M153,1580H160M160,1580V1587M400,1580V1587M640,1580V1587M880,1580V1587M1120,1580V1587" stroke="#000" stroke-width="1.9" fill="none"/>
<!-- tick labels -->
<g class="l">
<text transform="translate(16.32,154.0) scale(1.0662,1)">42.5°N</text>
<text transform="translate(52.07,514.0) scale(1.0579,1)">41°N</text>
<text transform="translate(16.65,874.0) scale(1.0634,1)">39.5°N</text>
<text transform="translate(52.42,1234.0) scale(1.0539,1)">38°N</text>
<text transform="translate(16.65,1594.0) scale(1.0634,1)">36.5°N</text>
<text transform="translate(107.94,1623.2) scale(1.0466,1)">10°W</text>
<text transform="translate(360.18,1623.2) scale(1.0428,1)">9°W</text>
<text transform="translate(600.38,1623.2) scale(1.0393,1)">8°W</text>
<text transform="translate(840.44,1623.2) scale(1.0343,1)">7°W</text>
<text transform="translate(1080.18,1623.2) scale(1.0412,1)">6°W</text>
<text transform="translate(1175.27,154.0) scale(1.0639,1)">40.0</text>
<text transform="translate(1174.06,394.0) scale(1.0683,1)">20.0</text>
<text transform="translate(1173.01,634.0) scale(1.0640,1)">10.0</text>
<text transform="translate(1174.50,874.0) scale(1.0483,1)">5.0</text>
<text transform="translate(1173.04,1114.0) scale(1.0521,1)">1.0</text>
<text transform="translate(1174.64,1354.0) scale(1.0411,1)">0.5</text>
<text transform="translate(1174.64,1594.0) scale(1.0413,1)">0.1</text>
</g>
<!-- colorbar -->
<rect x="1122" y="140" width="36" height="240" fill="#800080"/>
<rect x="1122" y="380" width="36" height="240" fill="#cc0033"/>
<rect x="1122" y="620" width="36" height="240" fill="#ff3300"/>
<rect x="1122" y="860" width="36" height="240" fill="#ffcc00"/>
<rect x="1122" y="1100" width="36" height="240" fill="#99cc00"/>
<rect x="1122" y="1340" width="36" height="240" fill="#008000"/>
<path d="M1122,380H1158M1122,620H1158M1122,860H1158M1122,1100H1158M1122,1340H1158" stroke="#000" stroke-width="0.8"/>
<path d="M1158,140H1165M1158,380H1165M1158,620H1165M1158,860H1165M1158,1100H1165M1158,1340H1165M1158,1580H1165" stroke="#000" stroke-width="1.9"/>

</svg>
</body></html>
